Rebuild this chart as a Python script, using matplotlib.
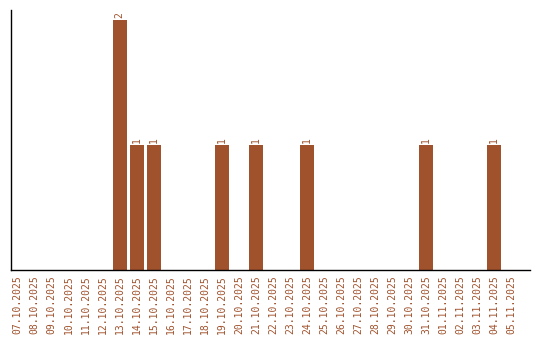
import matplotlib

matplotlib.use("Agg")
import matplotlib.pyplot as plt

dates = [
    "07.10.2025", "08.10.2025", "09.10.2025", "10.10.2025", "11.10.2025",
    "12.10.2025", "13.10.2025", "14.10.2025", "15.10.2025", "16.10.2025",
    "17.10.2025", "18.10.2025", "19.10.2025", "20.10.2025", "21.10.2025",
    "22.10.2025", "23.10.2025", "24.10.2025", "25.10.2025", "26.10.2025",
    "27.10.2025", "28.10.2025", "29.10.2025", "30.10.2025", "31.10.2025",
    "01.11.2025", "02.11.2025", "03.11.2025", "04.11.2025", "05.11.2025",
]
counts = [0, 0, 0, 0, 0, 0, 2, 1, 1, 0, 0, 0, 1, 0, 1,
          0, 0, 1, 0, 0, 0, 0, 0, 0, 1, 0, 0, 0, 1, 0]

BROWN = "#a0522d"
FONT = "DejaVu Sans Mono"

fig = plt.figure(figsize=(5.4, 3.4), dpi=100)
ax = fig.add_axes([10.5 / 540, 70 / 340, 519.5 / 540, 260 / 340])

x = list(range(len(dates)))
ax.bar(x, counts, width=0.82, color=BROWN)

for xi, value in zip(x, counts):
    if value > 0:
        ax.text(xi, value + 0.02, str(value), rotation=90, ha="center", va="bottom",
                color=BROWN, fontsize=7, family=FONT)

ax.set_xlim(-0.41, 30.1)
ax.set_ylim(0, 2.08)
ax.set_xticks(x)
ax.set_xticklabels(dates, rotation=90, color=BROWN, fontsize=7, family=FONT)
ax.tick_params(axis="x", length=0, pad=4)
ax.set_yticks([])
ax.spines["top"].set_visible(False)
ax.spines["right"].set_visible(False)
ax.spines["left"].set_linewidth(1)
ax.spines["bottom"].set_linewidth(1)

fig.savefig("out.png", dpi=100)
